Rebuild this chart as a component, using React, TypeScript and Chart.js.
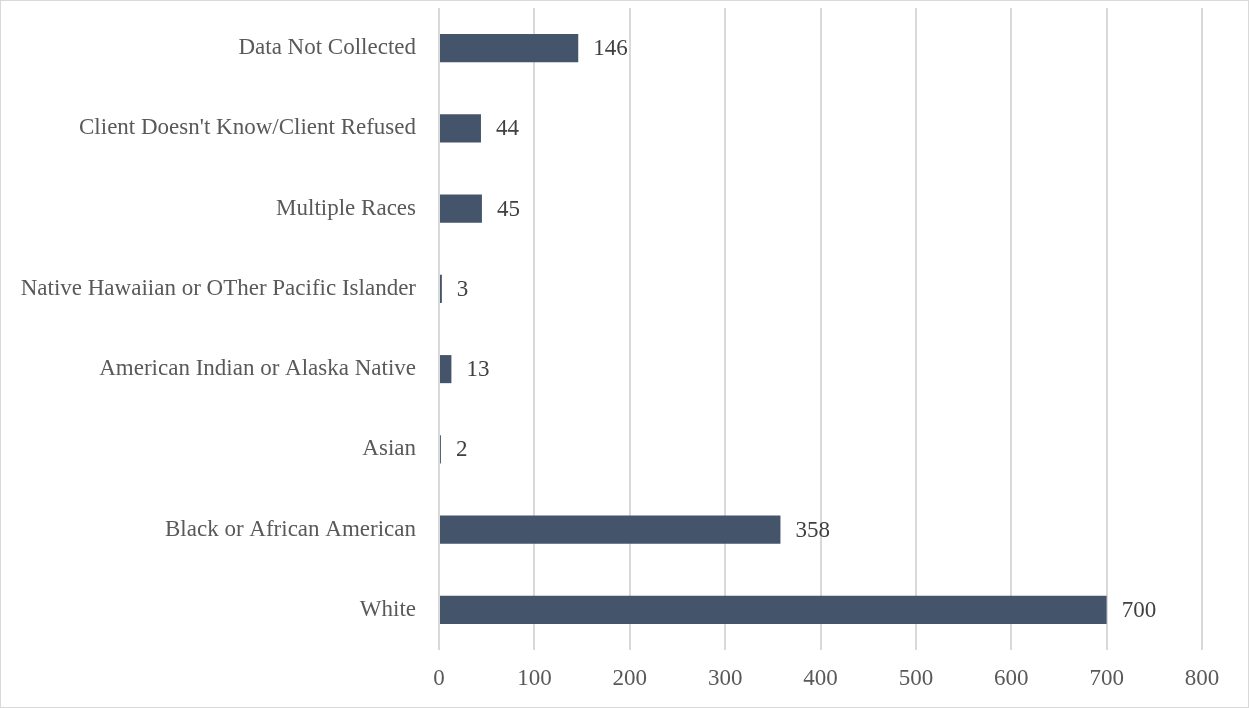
import React, { useEffect, useRef } from "react";
import { Chart, registerables } from "chart.js";

Chart.register(...registerables);

const categories = [
  "Data Not Collected",
  "Client Doesn't Know/Client Refused",
  "Multiple Races",
  "Native Hawaiian or OTher Pacific Islander",
  "American Indian or Alaska Native",
  "Asian",
  "Black or African American",
  "White",
];
const values = [146, 44, 45, 3, 13, 2, 358, 700];
const xTickMax = 800;
const xTickStep = 100;

const FONT = "'Liberation Serif', 'Times New Roman', serif";

export default function App() {
  const ref = useRef<HTMLCanvasElement>(null);
  useEffect(() => {
    document.body.style.margin = "0";
    const valueLabels = {
      id: "valueLabels",
      afterDatasetsDraw(chart: any) {
        const ctx = chart.ctx;
        const meta = chart.getDatasetMeta(0);
        ctx.save();
        ctx.font = `23px ${FONT}`;
        ctx.fillStyle = "#404040";
        ctx.textAlign = "left";
        ctx.textBaseline = "middle";
        meta.data.forEach((bar: any, i: number) => {
          ctx.fillText(String(values[i]), bar.x + 15, bar.y + 1);
        });
        ctx.restore();
      },
    };
    const chart = new Chart(ref.current!, {
      type: "bar",
      data: {
        labels: categories,
        datasets: [
          {
            data: values,
            backgroundColor: "#44546A",
            borderColor: "#44546A",
            borderWidth: 0,
            barPercentage: 0.7,
            categoryPercentage: 0.5,
          },
        ],
      },
      options: {
        indexAxis: "y",
        animation: false,
        responsive: false,
        maintainAspectRatio: false,
        layout: { padding: { left: 0, right: 46, top: 7, bottom: 0 } },
        plugins: { legend: { display: false }, tooltip: { enabled: false } },
        scales: {
          x: {
            min: 0,
            max: xTickMax,
            ticks: {
              stepSize: xTickStep,
              color: "#595959",
              font: { family: FONT, size: 23 },
              padding: 15,
            },
            grid: { color: "#d9d9d9", lineWidth: 2, drawTicks: false },
            border: { display: false },
            afterFit: (s: any) => {
              s.height = 57;
              s.paddingLeft = 0;
              s.paddingRight = 0;
            },
          },
          y: {
            ticks: {
              color: "#595959",
              font: { family: FONT, size: 23 },
              padding: 15,
            },
            grid: { display: false },
            border: { display: false },
            afterFit: (s: any) => {
              s.width = 438;
              s.paddingTop = 0;
              s.paddingBottom = 0;
            },
          },
        },
      },
      plugins: [valueLabels],
    });
    return () => chart.destroy();
  }, []);
  return (
    <div
      style={{
        position: "absolute",
        left: 0,
        top: 0,
        width: 1249,
        height: 708,
        boxSizing: "border-box",
        border: "1px solid #d9d9d9",
        background: "#fff",
      }}
    >
      <canvas ref={ref} width={1247} height={706} style={{ display: "block" }} />
    </div>
  );
}
